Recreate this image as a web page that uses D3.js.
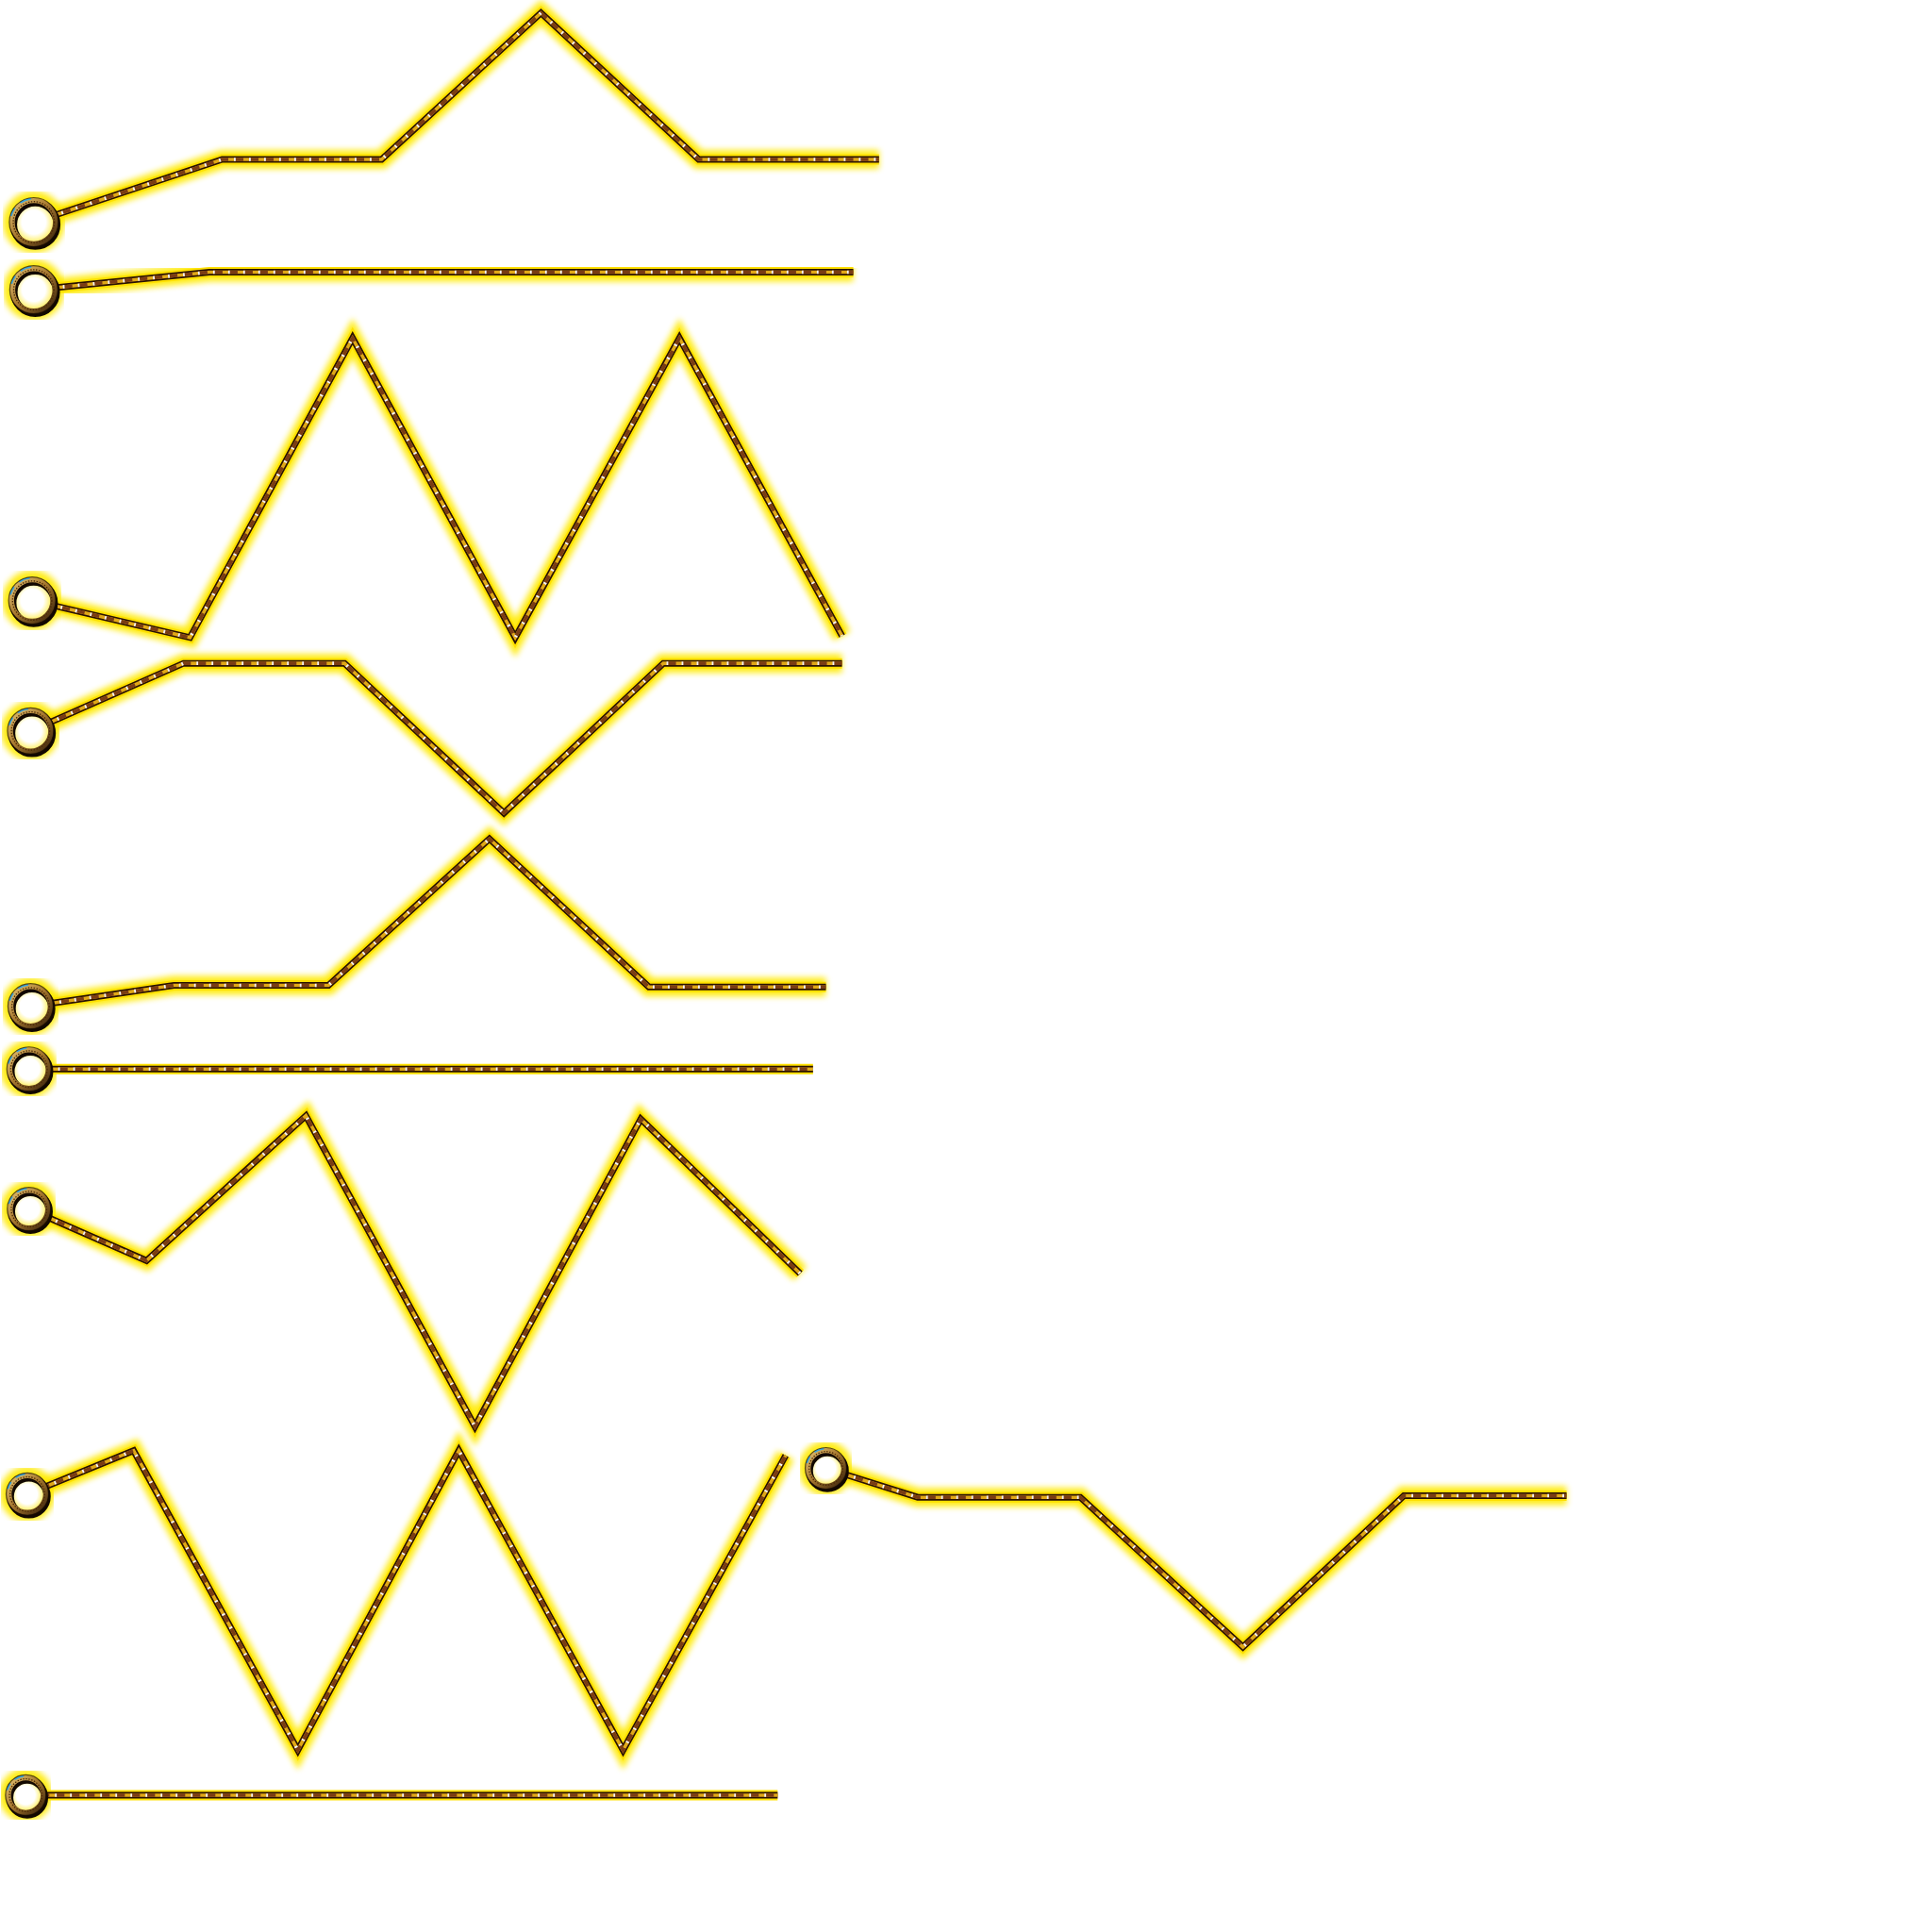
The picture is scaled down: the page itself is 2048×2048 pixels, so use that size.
<!DOCTYPE html>
<html>
<head>
<meta charset="utf-8">
<script src="https://cdn.jsdelivr.net/npm/d3@7"></script>
<style>
html,body{margin:0;padding:0;background:#fff;}
svg{display:block;}
</style>
</head>
<body>
<svg id="chart" width="2048" height="2048"></svg>
<script>
// ---- data (chart units: one unit ≈ one step) ----
const seriesNames = ["r1","r2","r3","r4","r5","r6","r7","r8","r9","r10"];
const ringX = [0.21, 0.21, 0.20, 0.19, 0.19, 0.18, 0.18, 0.17, 5.13, 0.16];
const ringY = [1.38, 1.80, 3.73, 4.54, 6.25, 6.64, 7.51, 9.28, 9.12, 11.15];
const pointX = [
  [1.38, 2.37, 3.36, 4.34, 5.46],
  [1.30, 2.30, 3.30, 4.30, 5.30],
  [1.18, 2.19, 3.20, 4.22, 5.23],
  [1.14, 2.14, 3.13, 4.12, 5.23],
  [1.08, 2.04, 3.04, 4.03, 5.13],
  [1.00, 1.97, 2.99, 4.00, 5.05],
  [0.91, 1.90, 2.95, 3.98, 4.97],
  [0.83, 1.85, 2.85, 3.87, 4.88],
  [5.70, 6.71, 7.72, 8.72, 9.73],
  [0.88, 1.87, 2.86, 3.84, 4.83]
];
const pointY = [
  [0.99, 0.99, 0.08, 0.99, 0.99],
  [1.69, 1.69, 1.69, 1.69, 1.69],
  [3.96, 2.10, 3.96, 2.10, 3.95],
  [4.12, 4.12, 5.05, 4.12, 4.12],
  [6.12, 6.12, 5.21, 6.13, 6.13],
  [6.64, 6.64, 6.64, 6.64, 6.64],
  [7.83, 6.93, 8.86, 6.95, 7.91],
  [9.01, 10.87, 9.01, 10.87, 9.04],
  [9.30, 9.30, 10.23, 9.29, 9.29],
  [11.15, 11.15, 11.15, 11.15, 11.15]
];

// ---- scales ----
const W = 2048, H = 2048;
const x = d3.scaleLinear().domain([0, 12]).range([0, W]);
const y = d3.scaleLinear().domain([0, 12]).range([0, H]);
const rScale = d3.scaleLinear().domain([0, seriesNames.length - 1]).range([23, 18.5]);

const svg = d3.select("#chart");
const defs = svg.append("defs");

const glow = defs.append("filter").attr("id","glow")
  .attr("x","-20%").attr("y","-20%").attr("width","140%").attr("height","140%");
glow.append("feGaussianBlur").attr("stdDeviation", 3);

const ringGrad = defs.append("linearGradient").attr("id","ringGrad")
  .attr("x1","0").attr("y1","0").attr("x2","1").attr("y2","1");
ringGrad.append("stop").attr("offset","0%").attr("stop-color","#e2c070");
ringGrad.append("stop").attr("offset","45%").attr("stop-color","#a87a30");
ringGrad.append("stop").attr("offset","100%").attr("stop-color","#3a220a");

const innerGrad = defs.append("radialGradient").attr("id","innerGrad");
innerGrad.append("stop").attr("offset","60%").attr("stop-color","#ffffff");
innerGrad.append("stop").attr("offset","100%").attr("stop-color","#fff06a");

const line = d3.line().x(d => x(d[0])).y(d => y(d[1])).curve(d3.curveLinear);

const rows = seriesNames.map((name, i) => ({
  name, i,
  ring: [ringX[i], ringY[i]],
  pts: [[ringX[i], ringY[i]]].concat(pointX[i].map((px, j) => [px, pointY[i][j]]))
}));

const g = svg.append("g");

function pathLayer(cls, attrs) {
  const sel = g.selectAll("path." + cls).data(rows).join("path")
    .attr("class", cls)
    .attr("d", d => line(d.pts))
    .attr("fill","none")
    .attr("stroke-linejoin","miter").attr("stroke-miterlimit",10);
  Object.entries(attrs).forEach(([k, v]) => sel.attr(k, v));
  return sel;
}

// glow layers
pathLayer("glowWide", {"stroke":"#ffea00","stroke-width":20,"opacity":0.9,"filter":"url(#glow)"});
g.selectAll("circle.glowRing").data(rows).join("circle")
  .attr("class","glowRing")
  .attr("cx", d => x(d.ring[0])).attr("cy", d => y(d.ring[1]))
  .attr("r", d => rScale(d.i))
  .attr("fill","none").attr("stroke","#ffea00").attr("stroke-width",20)
  .attr("opacity",0.9).attr("filter","url(#glow)");
pathLayer("glowCore", {"stroke":"#ffe000","stroke-width":11});

// line body
pathLayer("core", {"stroke":"#2a1202","stroke-width":7});
pathLayer("gold", {"stroke":"#e0a818","stroke-width":3.6});
pathLayer("dash", {"stroke":"#7a3c14","stroke-width":3.6,"stroke-dasharray":"9 7"});
pathLayer("tick", {"stroke":"#f4f4f4","stroke-width":3.6,"stroke-dasharray":"1.8 14.2","stroke-dashoffset":1});

// rings
const rings = g.selectAll("g.ring").data(rows).join("g")
  .attr("class","ring")
  .attr("transform", d => `translate(${x(d.ring[0])},${y(d.ring[1])})`);
rings.append("circle")
  .attr("r", d => rScale(d.i) - 2).attr("fill","url(#innerGrad)");
rings.append("circle")
  .attr("cx",1.5).attr("cy",2.5)
  .attr("r", d => rScale(d.i)).attr("fill","none")
  .attr("stroke","#120800").attr("stroke-width",7.5);
rings.append("circle")
  .attr("r", d => rScale(d.i)).attr("fill","none")
  .attr("stroke","url(#ringGrad)").attr("stroke-width",5.5);
rings.append("circle")
  .attr("r", d => rScale(d.i) - 1.2).attr("fill","none")
  .attr("stroke","#4a2806").attr("stroke-width",1.3)
  .attr("stroke-dasharray","1.4 1.6");
rings.append("circle")
  .attr("r", d => rScale(d.i) + 2).attr("fill","none")
  .attr("stroke","#38a6e0").attr("stroke-width",1.8)
  .attr("stroke-dasharray", d => {
    const c = 2 * Math.PI * (rScale(d.i) + 2);
    return `${c*0.06} ${c*0.05} ${c*0.08} ${c*0.81}`;
  })
  .attr("transform","rotate(195)");
rings.append("circle")
  .attr("r", d => rScale(d.i) + 3).attr("fill","none")
  .attr("stroke","#1a0d00").attr("stroke-width",1.2)
  .attr("stroke-opacity",0.7);
</script>
</body>
</html>
